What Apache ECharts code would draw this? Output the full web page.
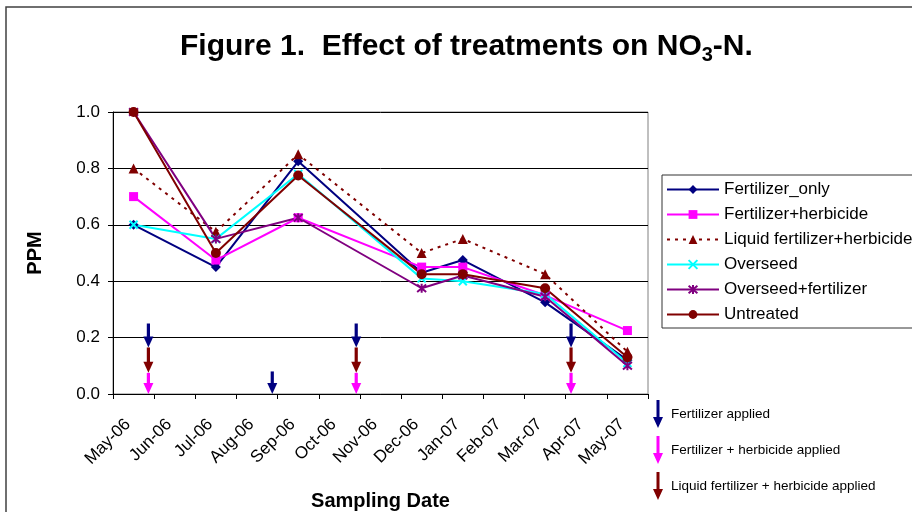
<!DOCTYPE html>
<html><head><meta charset="utf-8">
<script src="https://cdn.jsdelivr.net/npm/echarts@6/dist/echarts.min.js"></script>
<style>html,body{margin:0;padding:0;background:#fff}#c{width:912px;height:512px}</style>
</head><body><div id="c"></div>
<script>
const months = ['May-06','Jun-06','Jul-06','Aug-06','Sep-06','Oct-06','Nov-06','Dec-06','Jan-07','Feb-07','Mar-07','Apr-07','May-07'];
const fertilizerOnly            = [0.6, null, 0.45,  null, 0.825, null, null, 0.43,  0.475, null, 0.325, null, 0.12];
const fertilizerHerbicide       = [0.7, null, 0.475, null, 0.625, null, null, 0.45,  0.45,  null, 0.35,  null, 0.225];
const liquidFertilizerHerbicide = [0.8, null, 0.575, null, 0.85,  null, null, 0.5,   0.55,  null, 0.425, null, 0.15];
const overseed                  = [0.6, null, 0.55,  null, 0.78,  null, null, 0.41,  0.40,  null, 0.355, null, 0.11];
const overseedFertilizer        = [1.0, null, 0.55,  null, 0.625, null, null, 0.375, 0.42,  null, 0.345, null, 0.10];
const untreated                 = [1.0, null, 0.5,   null, 0.775, null, null, 0.425, 0.425, null, 0.375, null, 0.13];
const yMin = 0, yMax = 1.0, yStep = 0.2;
// application arrows: [position in months from start of May-06, top value, tip value]
const arrowsFertilizer = [[0.86, 0.25, 0.165], [3.87, 0.08, 0], [5.91, 0.25, 0.165], [11.13, 0.25, 0.165]];
const arrowsLiquid     = [[0.86, 0.165, 0.075], [5.91, 0.165, 0.075], [11.13, 0.165, 0.075]];
const arrowsFertHerb   = [[0.86, 0.075, 0], [5.91, 0.075, 0], [11.13, 0.075, 0]];

const FONT = "'Liberation Sans', Arial, sans-serif";
const arrowIcon = 'path://M3.5,0 L6.5,0 L6.5,17 L10,17 L5,28 L0,17 L3.5,17 Z';

function arrowRender(params, api) {
  const x = api.value(0), y1 = api.value(1), y2 = api.value(2);
  const p1 = api.coord([x, y1]);
  const p2 = api.coord([x, y2]);
  const color = api.visual('color');
  const headLen = 11, headW = 5, shaftW = 1.6;
  return {
    type: 'group',
    children: [
      { type: 'rect', shape: { x: p1[0] - shaftW, y: p1[1], width: shaftW * 2, height: Math.max(0, p2[1] - headLen - p1[1] + 0.5) }, style: { fill: color } },
      { type: 'polygon', shape: { points: [[p2[0] - headW, p2[1] - headLen], [p2[0] + headW, p2[1] - headLen], [p2[0], p2[1]]] }, style: { fill: color } }
    ]
  };
}

function lineSeries(name, data, color, symbol, size, extra) {
  return Object.assign({
    name: name, type: 'line', data: data, connectNulls: true,
    xAxisIndex: 0, yAxisIndex: 0,
    symbol: symbol, symbolSize: size,
    lineStyle: { color: color, width: 2 },
    itemStyle: { color: color, borderColor: color, borderWidth: 0 },
    emphasis: { disabled: true }, animation: false
  }, extra || {});
}

const series = [
  lineSeries('Fertilizer_only', fertilizerOnly, '#000080', 'diamond', 10),
  lineSeries('Fertilizer+herbicide', fertilizerHerbicide, '#FF00FF', 'rect', 9),
  lineSeries('Liquid fertilizer+herbicide', liquidFertilizerHerbicide, '#800000', 'triangle', 10,
    { lineStyle: { color: '#800000', width: 2, type: [3, 5] } }),
  lineSeries('Overseed', overseed, '#00FFFF', 'path://M0,0L10,10M10,0L0,10', 8,
    { itemStyle: { color: 'none', borderColor: '#00FFFF', borderWidth: 2 } }),
  lineSeries('Overseed+fertilizer', overseedFertilizer, '#800080', 'path://M0,0L10,10M10,0L0,10M5,-1L5,11', 9,
    { itemStyle: { color: 'none', borderColor: '#800080', borderWidth: 2 } }),
  lineSeries('Untreated', untreated, '#800000', 'circle', 10),
  { name: 'Fertilizer applied', type: 'custom', xAxisIndex: 1, yAxisIndex: 0, renderItem: arrowRender,
    encode: { x: 0, y: [1, 2] }, data: arrowsFertilizer, itemStyle: { color: '#000080' }, z: 5, animation: false },
  { name: 'Liquid fertilizer + herbicide applied', type: 'custom', xAxisIndex: 1, yAxisIndex: 0, renderItem: arrowRender,
    encode: { x: 0, y: [1, 2] }, data: arrowsLiquid, itemStyle: { color: '#800000' }, z: 5, animation: false },
  { name: 'Fertilizer + herbicide applied', type: 'custom', xAxisIndex: 1, yAxisIndex: 0, renderItem: arrowRender,
    encode: { x: 0, y: [1, 2] }, data: arrowsFertHerb, itemStyle: { color: '#FF00FF' }, z: 5, animation: false }
];

const chart = echarts.init(document.getElementById('c'), null, { renderer: 'canvas' });
chart.setOption({
  animation: false,
  backgroundColor: '#fff',
  textStyle: { fontFamily: FONT },
  title: {
    left: 180, top: 29, padding: 0,
    text: '{a|Figure 1.  Effect of treatments on NO}{s|3}{a|-N.}',
    textStyle: {
      rich: {
        a: { fontSize: 30, fontWeight: 'bold', fontFamily: FONT, color: '#000', lineHeight: 36, verticalAlign: 'middle' },
        s: { fontSize: 20, fontWeight: 'bold', fontFamily: FONT, color: '#000', lineHeight: 18, verticalAlign: 'bottom' }
      }
    }
  },
  grid: { left: 113, top: 112, width: 535, height: 282, show: true, borderColor: '#808080', borderWidth: 1, backgroundColor: '#fff', containLabel: false, outerBoundsMode: 'none' },
  legend: [
    {
      data: ['Fertilizer_only', 'Fertilizer+herbicide', 'Liquid fertilizer+herbicide', 'Overseed', 'Overseed+fertilizer', 'Untreated'],
      orient: 'vertical', left: 662, top: 175,
      padding: [6, 10, 5, 4], itemWidth: 52, itemHeight: 11, itemGap: 8,
      borderColor: '#333', borderWidth: 1, backgroundColor: '#fff',
      textStyle: { fontSize: 17, fontFamily: FONT, color: '#000', lineHeight: 17 },
      selectedMode: false
    },
    {
      data: [
        { name: 'Fertilizer applied', icon: arrowIcon },
        { name: 'Fertilizer + herbicide applied', icon: arrowIcon },
        { name: 'Liquid fertilizer + herbicide applied', icon: arrowIcon }
      ],
      orient: 'vertical', left: 653, top: 400, padding: 0,
      itemWidth: 10, itemHeight: 28, itemGap: 8,
      textStyle: { fontSize: 13.5, fontFamily: FONT, color: '#000', padding: [0, 0, 0, 3] },
      selectedMode: false
    }
  ],
  xAxis: [
    {
      type: 'category', data: months, boundaryGap: true, gridIndex: 0,
      name: 'Sampling Date', nameLocation: 'middle', nameGap: 97, nameMoveOverlap: false,
      nameTextStyle: { fontSize: 20, fontWeight: 'bold', fontFamily: FONT, color: '#000' },
      axisLine: { show: true, onZero: false, lineStyle: { color: '#000', width: 1 } },
      axisTick: { show: true, length: 5, interval: 0, lineStyle: { color: '#000' } },
      axisLabel: { interval: 0, rotate: 45, margin: 22, padding: [0, 8, 0, 0], fontSize: 17, fontFamily: FONT, color: '#000' },
      splitLine: { show: false }
    },
    { type: 'value', min: 0, max: 13, show: false, gridIndex: 0 }
  ],
  yAxis: {
    type: 'value', min: yMin, max: yMax, interval: yStep,
    name: 'PPM', nameLocation: 'middle', nameGap: 68, nameMoveOverlap: false,
    nameTextStyle: { fontSize: 20, fontWeight: 'bold', fontFamily: FONT, color: '#000' },
    axisLine: { show: true, lineStyle: { color: '#000', width: 1 } },
    axisTick: { show: true, length: 5, lineStyle: { color: '#000' } },
    axisLabel: { margin: 13, fontSize: 17, fontFamily: FONT, color: '#000', formatter: v => v.toFixed(1) },
    splitLine: { show: true, lineStyle: { color: '#000', width: 1 } }
  },
  graphic: [
    { type: 'rect', shape: { x: 6, y: 7, width: 930, height: 530 }, style: { fill: 'none', stroke: '#404040', lineWidth: 1.5 }, silent: true, z: 100 }
  ],
  series: series
});
</script>
</body></html>
